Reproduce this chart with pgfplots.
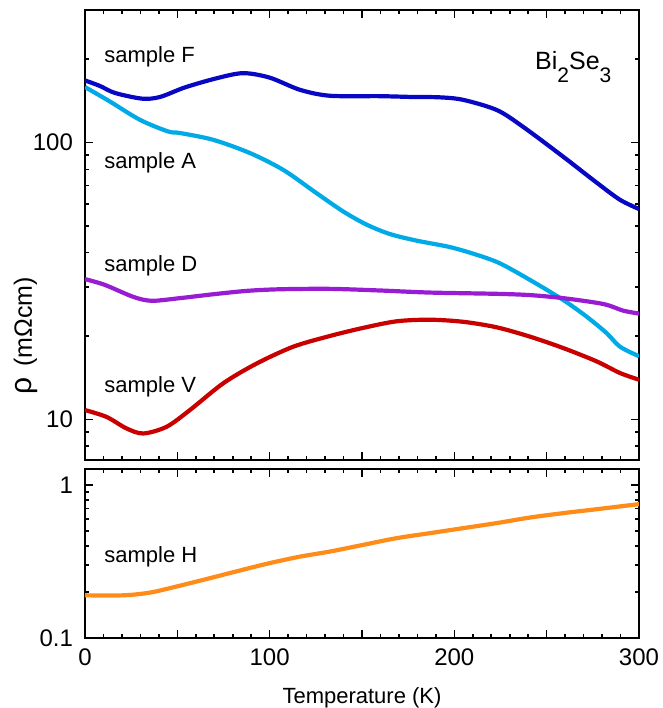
\documentclass[border=0pt]{standalone}
\usepackage{fontspec}
\setmainfont{Liberation Sans}
\usepackage{pgfplots}
\pgfplotsset{compat=1.18}
\definecolor{cF}{RGB}{8,8,196}
\definecolor{cA}{RGB}{0,170,230}
\definecolor{cD}{RGB}{152,28,210}
\definecolor{cV}{RGB}{200,0,0}
\definecolor{cH}{RGB}{255,140,25}

\pgfplotsset{rho/.style={
    scale only axis, width=277pt,
    xmin=0, xmax=300,
    axis line style={line width=1pt},
    every tick/.style={black, line width=0.8pt},
    major tick length=4pt, minor tick length=2pt,
    xtick={0,50,...,300}, minor x tick num=4,
    tick label style={font=\fontsize{12}{14}\selectfont},
    yticklabel style={xshift=-2.5pt},
    xticklabel style={yshift=-2pt},
    /pgf/number format/assume math mode=true,
    label style={font=\fontsize{11}{13}\selectfont, inner sep=0pt},
    every axis plot/.append style={line width=2.1pt, smooth, no markers},
  }}

\begin{document}
\begin{tikzpicture}
  \path[use as bounding box] (-42.5pt,-35pt) rectangle (289pt,319pt);
  % upper panel
  \begin{semilogyaxis}[rho,
    at={(0,89pt)}, anchor=south west, height=225pt,
    ymin=7.13, ymax=301,
    ytick={10,100}, yticklabels={10,100},
    minor ytick={8,9,20,30,40,50,60,70,80,90,200,300},
    xticklabels={},
    ylabel={{\fontsize{15}{15}\selectfont ρ}\, (mΩcm)},
    ylabel style={at={(rel axis cs:-0.1065,0.2756)}, anchor=center,
                  font=\fontsize{12.5}{14}\selectfont},
  ]
    % sample F
    \addplot[cF] coordinates {
      (0,167.6)(8.1,160)(16.2,151)(30.9,144)(40.6,146)(54,158)(70.4,170)
      (85.5,178)(100,171.5)(116.4,155)(132.6,147.5)(159.7,147)(177.6,146)
      (192,145.6)(204.7,142.6)(223,131)(237,114.2)(258.8,89)(277.2,71.5)
      (289.7,62.1)(300,57.5)
    };
    % sample A
    \addplot[cA] coordinates {
      (0,158.6)(13.5,140.6)(29.8,120.7)(45,109.6)(51.4,108.2)(69.3,102.3)
      (89.3,91.6)(107.4,79.6)(125.4,65.6)(139.9,56.3)(152.5,50.5)(165.1,46.7)
      (179.6,44.2)(197.6,41.9)(212.1,39.3)(224.7,36.6)(240.9,31.9)(258.9,27.0)
      (271.6,23.5)(282.4,20.5)(289.7,18.3)(300,16.9)
    };
    % sample D
    \addplot[cD] coordinates {
      (0,32.1)(10.7,30.6)(26.1,27.7)(36.1,26.8)(51.4,27.4)(69.5,28.3)
      (87.5,29.1)(105.6,29.5)(132.6,29.6)(159.7,29.2)(186.8,28.7)(222.9,28.4)
      (240.9,28.1)(258.9,27.4)(280.6,26.1)(291.4,24.7)(300,24.1)
    };
    % sample V
    \addplot[cV] coordinates {
      (0,10.8)(11.7,10.2)(22.5,9.27)(31.6,8.89)(44.2,9.40)(56.8,10.8)
      (74.9,13.5)(92.9,15.9)(112.8,18.3)(132.6,20.0)(150.7,21.4)(168.8,22.6)
      (186.8,22.9)(204.9,22.5)(222.9,21.5)(240.9,19.9)(258.9,18.1)(277,16.2)
      (289.7,14.7)(300,13.9)
    };
    \node[anchor=base west, font=\fontsize{11}{13}\selectfont, inner sep=0pt]
      at (axis cs:10.3,194.6) {sample F};
    \node[anchor=base west, font=\fontsize{11}{13}\selectfont, inner sep=0pt]
      at (axis cs:10.3,80.8) {sample A};
    \node[anchor=base west, font=\fontsize{11}{13}\selectfont, inner sep=0pt]
      at (axis cs:10.3,34.1) {sample D};
    \node[anchor=base west, font=\fontsize{11}{13}\selectfont, inner sep=0pt]
      at (axis cs:10.3,12.5) {sample V};
    \node[anchor=base west, font=\fontsize{12.5}{14}\selectfont, inner sep=0pt]
      at (axis cs:243.6,183) {Bi\raisebox{-6.5pt}{\fontsize{10.5}{12}\selectfont 2}Se\raisebox{-6.5pt}{\fontsize{10.5}{12}\selectfont 3}};
  \end{semilogyaxis}

  % lower panel
  \begin{semilogyaxis}[rho,
    at={(0,0)}, anchor=south west, height=84.5pt,
    ymin=0.1, ymax=1.27,
    ytick={0.1,1}, yticklabels={0.1,1},
    minor ytick={0.2,0.3,0.4,0.5,0.6,0.7,0.8,0.9},
    xticklabels={0,,100,,200,,300},
    xlabel={Temperature (K)},
    xlabel style={at={(rel axis cs:0.5,-0.355)}, anchor=center},
  ]
    % sample H
    \addplot[cH] coordinates {
      (0,0.190)(20.7,0.190)(35.2,0.198)(49.6,0.217)(67.7,0.246)(83.9,0.276)
      (99.8,0.308)(116.4,0.340)(132.6,0.367)(150.7,0.406)(168.8,0.449)
      (186.8,0.484)(204.9,0.522)(222.9,0.563)(240.9,0.612)(258.9,0.654)
      (277.2,0.694)(300,0.749)
    };
    \node[anchor=base west, font=\fontsize{11}{13}\selectfont, inner sep=0pt]
      at (axis cs:10.3,0.311) {sample H};
  \end{semilogyaxis}
\end{tikzpicture}
\end{document}
